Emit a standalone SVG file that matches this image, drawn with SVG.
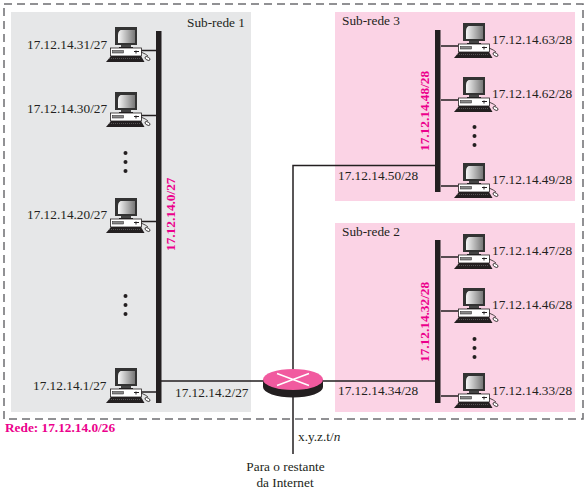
<svg xmlns="http://www.w3.org/2000/svg" width="587" height="493" viewBox="0 0 587 493">
<style>
text{font-family:"Liberation Serif","Times New Roman",serif;font-size:13.3px;fill:#231f20}
.m{fill:#ec008c;font-weight:bold}
.l{stroke:#231f20;stroke-width:1.5;fill:none}
.b{fill:#231f20}
</style>
<defs>
<linearGradient id="g" x1="0" y1="0" x2="1" y2="0"><stop offset="0" stop-color="#fff"/><stop offset="1" stop-color="#777"/></linearGradient>
<g id="pc">
<rect x="0" y="0" width="22" height="18" fill="#333"/>
<path d="M2 3H20V16H2V7Q2 3 6 3Z" fill="url(#g)"/>
<path d="M2 2H8Q3 3 3 8V16H2Z" fill="#333"/>
<rect x="6" y="18" width="10" height="2" fill="#444"/>
<rect x="4" y="20" width="14" height="1" fill="#222"/>
<rect x="-4.500" y="21" width="31" height="8" fill="#fff" stroke="#231f20" stroke-width="0.8"/>
<rect x="-2.500" y="23.500" width="11" height="2.500" fill="#888" stroke="#231f20" stroke-width="0.500"/>
<path d="M19 24.500H24M21 23.500V26.500" stroke="#231f20" stroke-width="1" fill="none"/>
<path d="M-4 29H26L29.500 35H-9Z" fill="#231f20"/>
<path d="M-6 31.500H26" stroke="#888" stroke-width="0.500" stroke-dasharray="1 1"/>
<path d="M26 25Q31 27 33 29" stroke="#231f20" stroke-width="0.8" fill="none"/>
<ellipse cx="32.500" cy="31.500" rx="2.800" ry="1.500" transform="rotate(30 32.500 31.500)" fill="#fff" stroke="#231f20" stroke-width="0.8"/>
</g>
<g id="dots" class="b"><circle cx="0" cy="0" r="2"/><circle cx="0" cy="9" r="2"/><circle cx="0" cy="18" r="2"/></g>
</defs>

<g id="subnets">
<rect x="11" y="12" width="240" height="400" fill="#e6e7e8"/>
<rect x="335" y="12" width="240" height="189" fill="#fbd3e5"/>
<rect x="335" y="223" width="240" height="189" fill="#fbd3e5"/>
<rect x="4" y="4" width="579" height="415" fill="none" stroke="#6d6e71" stroke-width="1.500" stroke-dasharray="8 5"/>
</g>

<g id="connectors">
<path class="l" d="M141 50.500H157M141 115.500H157M141 221.500H157M141 392H157"/>
<path class="l" d="M441 46H458M441 100H458M441 186H458M441 257H458M441 311H458M441 396H458"/>
<path class="l" d="M161 381H264M322 381H436"/>
<path class="l" d="M436 165.500H293V370M293 396V454"/>
</g>

<g id="bus1"><rect class="b" x="156" y="31" width="5.500" height="372"/><text class="m" transform="translate(175 251) rotate(-90)">17.12.14.0/27</text></g>
<g id="bus3"><rect class="b" x="435" y="30" width="5.500" height="162"/><text class="m" transform="translate(429 151) rotate(-90)">17.12.14.48/28</text></g>
<g id="bus2"><rect class="b" x="435" y="240" width="5.500" height="163"/><text class="m" transform="translate(429 362) rotate(-90)">17.12.14.32/28</text></g>

<g id="router">
<path d="M263 380V387A30 10.500 0 0 0 323 387V380Z" fill="#231f20"/>
<ellipse cx="293" cy="379.500" rx="30" ry="10.500" fill="#f15a9f"/>
<path d="M277 373.500L309 385.500M277 385.500L309 373.500" stroke="#fff" stroke-width="1.500"/>
</g>

<g id="pc-31"><use href="#pc" x="115" y="27"/><text x="27" y="49">17.12.14.31/27</text></g>
<g id="pc-30"><use href="#pc" x="115" y="92"/><text x="27" y="113">17.12.14.30/27</text></g>
<g id="pc-20"><use href="#pc" x="115" y="198"/><text x="27" y="219">17.12.14.20/27</text></g>
<g id="pc-1"><use href="#pc" x="115" y="368"/><text x="33" y="390">17.12.14.1/27</text></g>
<g id="pc-63"><use href="#pc" x="463" y="23"/><text x="492" y="44">17.12.14.63/28</text></g>
<g id="pc-62"><use href="#pc" x="463" y="77"/><text x="492" y="98">17.12.14.62/28</text></g>
<g id="pc-49"><use href="#pc" x="463" y="163"/><text x="492" y="184">17.12.14.49/28</text></g>
<g id="pc-47"><use href="#pc" x="463" y="234"/><text x="492" y="255">17.12.14.47/28</text></g>
<g id="pc-46"><use href="#pc" x="463" y="288"/><text x="492" y="309">17.12.14.46/28</text></g>
<g id="pc-33"><use href="#pc" x="463" y="373"/><text x="492" y="395">17.12.14.33/28</text></g>

<use href="#dots" x="125.500" y="153"/>
<use href="#dots" x="125.500" y="296"/>
<use href="#dots" x="474.500" y="127"/>
<use href="#dots" x="474.500" y="339"/>

<text x="187" y="27">Sub-rede 1</text>
<text x="342" y="25">Sub-rede 3</text>
<text x="342" y="236">Sub-rede 2</text>
<text x="338" y="180">17.12.14.50/28</text>
<text x="338" y="395">17.12.14.34/28</text>
<text x="175" y="397">17.12.14.2/27</text>
<text x="298" y="441">x.y.z.t/<tspan font-style="italic">n</tspan></text>
<text x="285.500" y="471" text-anchor="middle">Para o restante</text>
<text x="285" y="487" text-anchor="middle">da Internet</text>
<text class="m" x="5" y="432">Rede: 17.12.14.0/26</text>
</svg>
